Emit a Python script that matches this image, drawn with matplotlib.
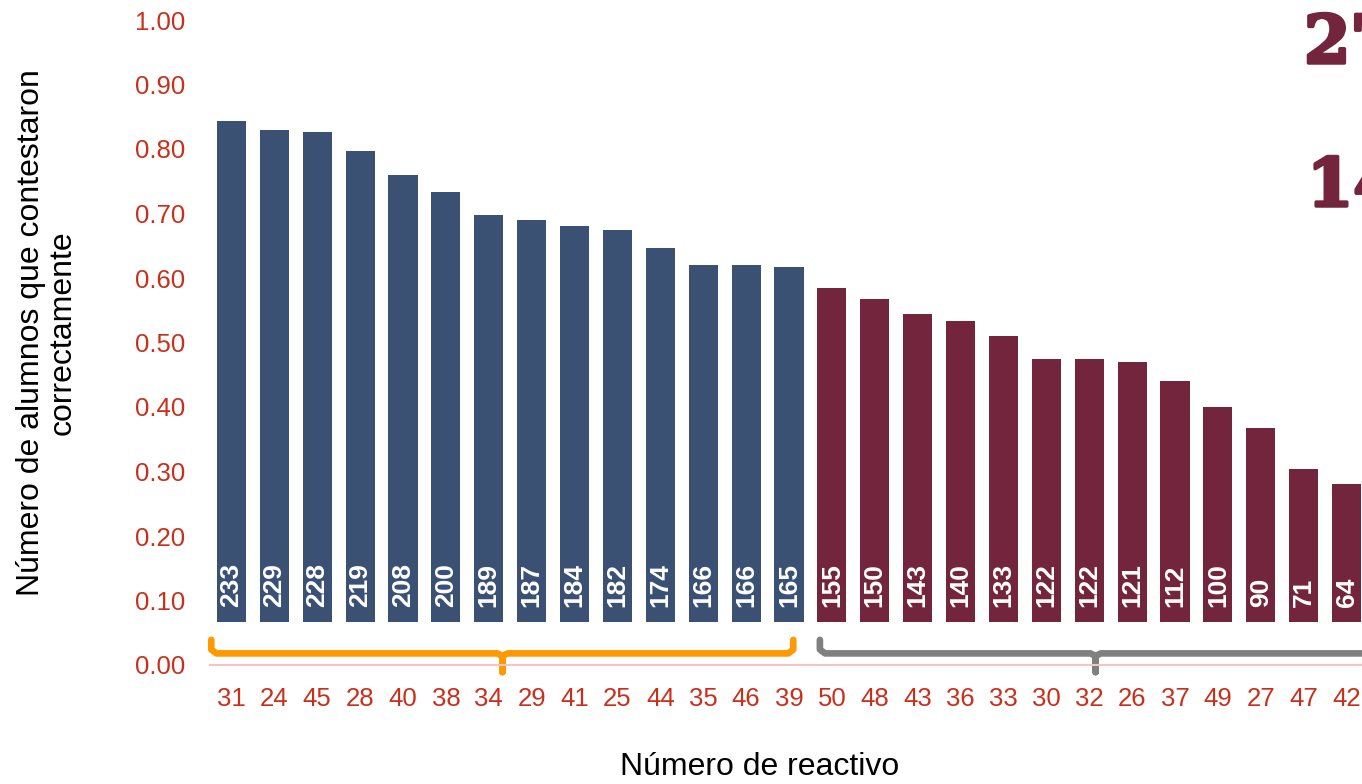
import matplotlib
matplotlib.use('Agg')
import matplotlib.pyplot as plt
import matplotlib.patheffects as pe
import numpy as np

plt.rcParams['font.family'] = ['Liberation Sans', 'DejaVu Sans']

# ---- data ----
reactivos = ['31', '24', '45', '28', '40', '38', '34', '29', '41', '25', '44', '35', '46', '39',
             '50', '48', '43', '36', '33', '30', '32', '26', '37', '49', '27', '47', '42']
aciertos = [233, 229, 228, 219, 208, 200, 189, 187, 184, 182, 174, 166, 166, 165,
            155, 150, 143, 140, 133, 122, 122, 121, 112, 100, 90, 71, 64]
alturas = [0.777, 0.763, 0.760, 0.730, 0.693, 0.667, 0.630, 0.623, 0.613, 0.607, 0.580, 0.553, 0.553, 0.550,
           0.517, 0.500, 0.477, 0.467, 0.443, 0.407, 0.407, 0.403, 0.373, 0.333, 0.300, 0.237, 0.213]
n_grupo_alto = 14
base = 0.067
yticks = [0.0, 0.1, 0.2, 0.3, 0.4, 0.5, 0.6, 0.7, 0.8, 0.9, 1.0]
texto_sup = ['27', '14']

# ---- style ----
AZUL = '#3A5173'
GUINDA = '#72253D'
ROJO = '#C9301C'
NARANJA = '#FF9900'
GRIS = '#808080'
ROSA = '#F6C4C4'

W, H = 1362, 784
fig = plt.figure(figsize=(W / 100, H / 100), dpi=100)
ax = fig.add_axes([210 / W, 119 / H, 1 - 210 / W, 645 / H])

x = np.arange(len(reactivos))
colors = [AZUL if i < n_grupo_alto else GUINDA for i in range(len(x))]
ax.bar(x, alturas, width=0.68, bottom=base, color=colors, zorder=2)

for xi, c in zip(x, aciertos):
    ax.annotate(str(c), (xi, base), xytext=(0, 11), textcoords='offset points',
                rotation=90, ha='center', va='bottom', color='white',
                fontweight='bold', fontsize=19, zorder=3)

ax.set_xlim(-0.5, 26.36)
ax.set_ylim(0, 1.0)
ax.set_xticks(x)
ax.set_xticklabels(reactivos)
ax.set_yticks(yticks)
ax.set_yticklabels([f'{v:.2f}' for v in yticks])
ax.tick_params(axis='y', length=0, pad=18, labelsize=18.5, labelcolor=ROJO)
ax.tick_params(axis='x', length=0, pad=16, labelsize=18.5, labelcolor=ROJO)
for s in ['top', 'right', 'left']:
    ax.spines[s].set_visible(False)
ax.spines['bottom'].set_color(ROSA)
ax.spines['bottom'].set_linewidth(1.5)


def llave(x0, x1, xc, color):
    yh, yt, yb = 0.018, 0.039, -0.011
    r = 0.12
    xs = [x0, x0, x0 + r, xc - r, xc, xc, xc, xc + r, x1 - r, x1, x1]
    ys = [yt, yh + 0.006, yh, yh, yh - 0.004, yb, yh - 0.004, yh, yh, yh + 0.006, yt]
    ax.plot(xs, ys, color=color, lw=4.8, solid_capstyle='round',
            solid_joinstyle='round', clip_on=False, zorder=1)


llave(-0.47, 13.1, 6.32, NARANJA)
llave(13.72, 26.6, 20.15, GRIS)

fig.text(47 / W, 1 - 333 / H, 'Número de alumnos que contestaron\ncorrectamente',
         rotation=90, ha='center', va='center', fontsize=23, multialignment='center',
         linespacing=1.05)
fig.text(760 / W, 1 - 767 / H, 'Número de reactivo', ha='center', va='center', fontsize=23)

heavy = [pe.withStroke(linewidth=2.5, foreground=GUINDA)]
fig.text(1304 / W, 1 - 63 / H, texto_sup[0], ha='left', va='baseline', color=GUINDA,
         fontsize=48, fontweight='bold', family=['DejaVu Serif'], path_effects=heavy)
fig.text(1307 / W, 1 - 206 / H, texto_sup[1], ha='left', va='baseline', color=GUINDA,
         fontsize=48, fontweight='bold', family=['DejaVu Serif'], path_effects=heavy)

fig.savefig('out.png', dpi=100)
